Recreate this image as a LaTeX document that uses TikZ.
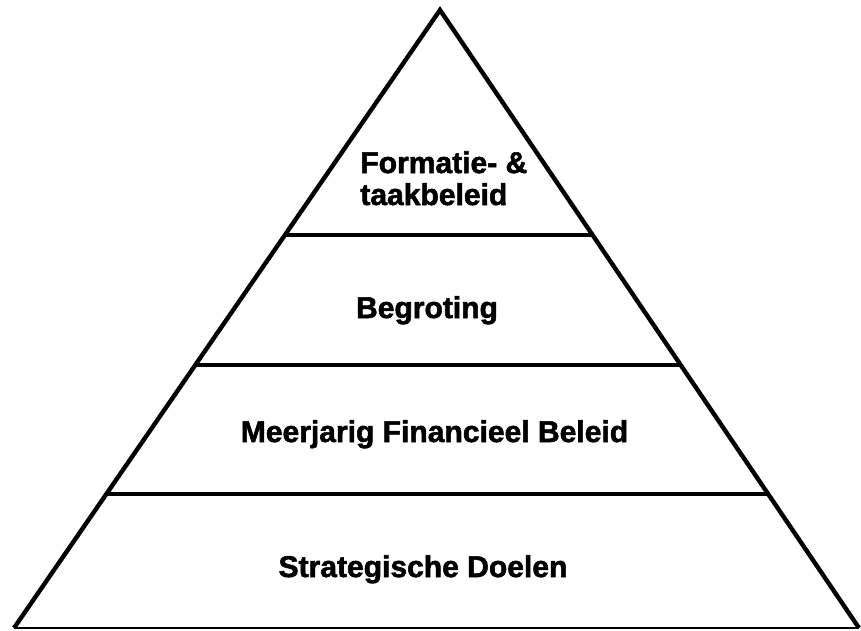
\documentclass[tikz,border=0pt]{standalone}
\usepackage{fontspec}
\setmainfont{Liberation Sans}
\newfontfamily\heavyfont[FakeBold=1.8]{Liberation Sans Bold}
\usepackage{tikz}
\usetikzlibrary{calc}

\begin{document}
\begin{tikzpicture}[x=0.02cm, y=-0.02cm,
  side/.style={draw=black, line width=2.5pt, line join=miter},
  tier/.style={draw=black, line width=2.2pt},
  base/.style={draw=black, line width=1.3pt},
  lvl/.style={font=\heavyfont\fontsize{17.1pt}{18.2pt}\selectfont, inner sep=0pt, anchor=base}
]
\useasboundingbox (0,0) rectangle (861,630);

\coordinate (top) at (440,10);
\coordinate (bl) at (14,628);
\coordinate (br) at (859,628);

% pyramid outline
\draw[side] (bl) -- (top) -- (br);
\draw[base] (bl) -- (br);

% tier separators
\draw[tier] ($(top)!0.364!(bl)$) -- ($(top)!0.364!(br)$);
\draw[tier] ($(top)!0.574!(bl)$) -- ($(top)!0.574!(br)$);
\draw[tier] ($(top)!0.783!(bl)$) -- ($(top)!0.783!(br)$);

% labels
\node[lvl, anchor=base west, align=left] (formatie) at (360,205) {Formatie- \&\\taakbeleid};
\node[lvl] (begroting) at (427,318) {Begroting};
\node[lvl] (mfb) at (434.5,442) {Meerjarig Financieel Beleid};
\node[lvl] (doelen) at (423,577) {Strategische Doelen};

\end{tikzpicture}
\end{document}
